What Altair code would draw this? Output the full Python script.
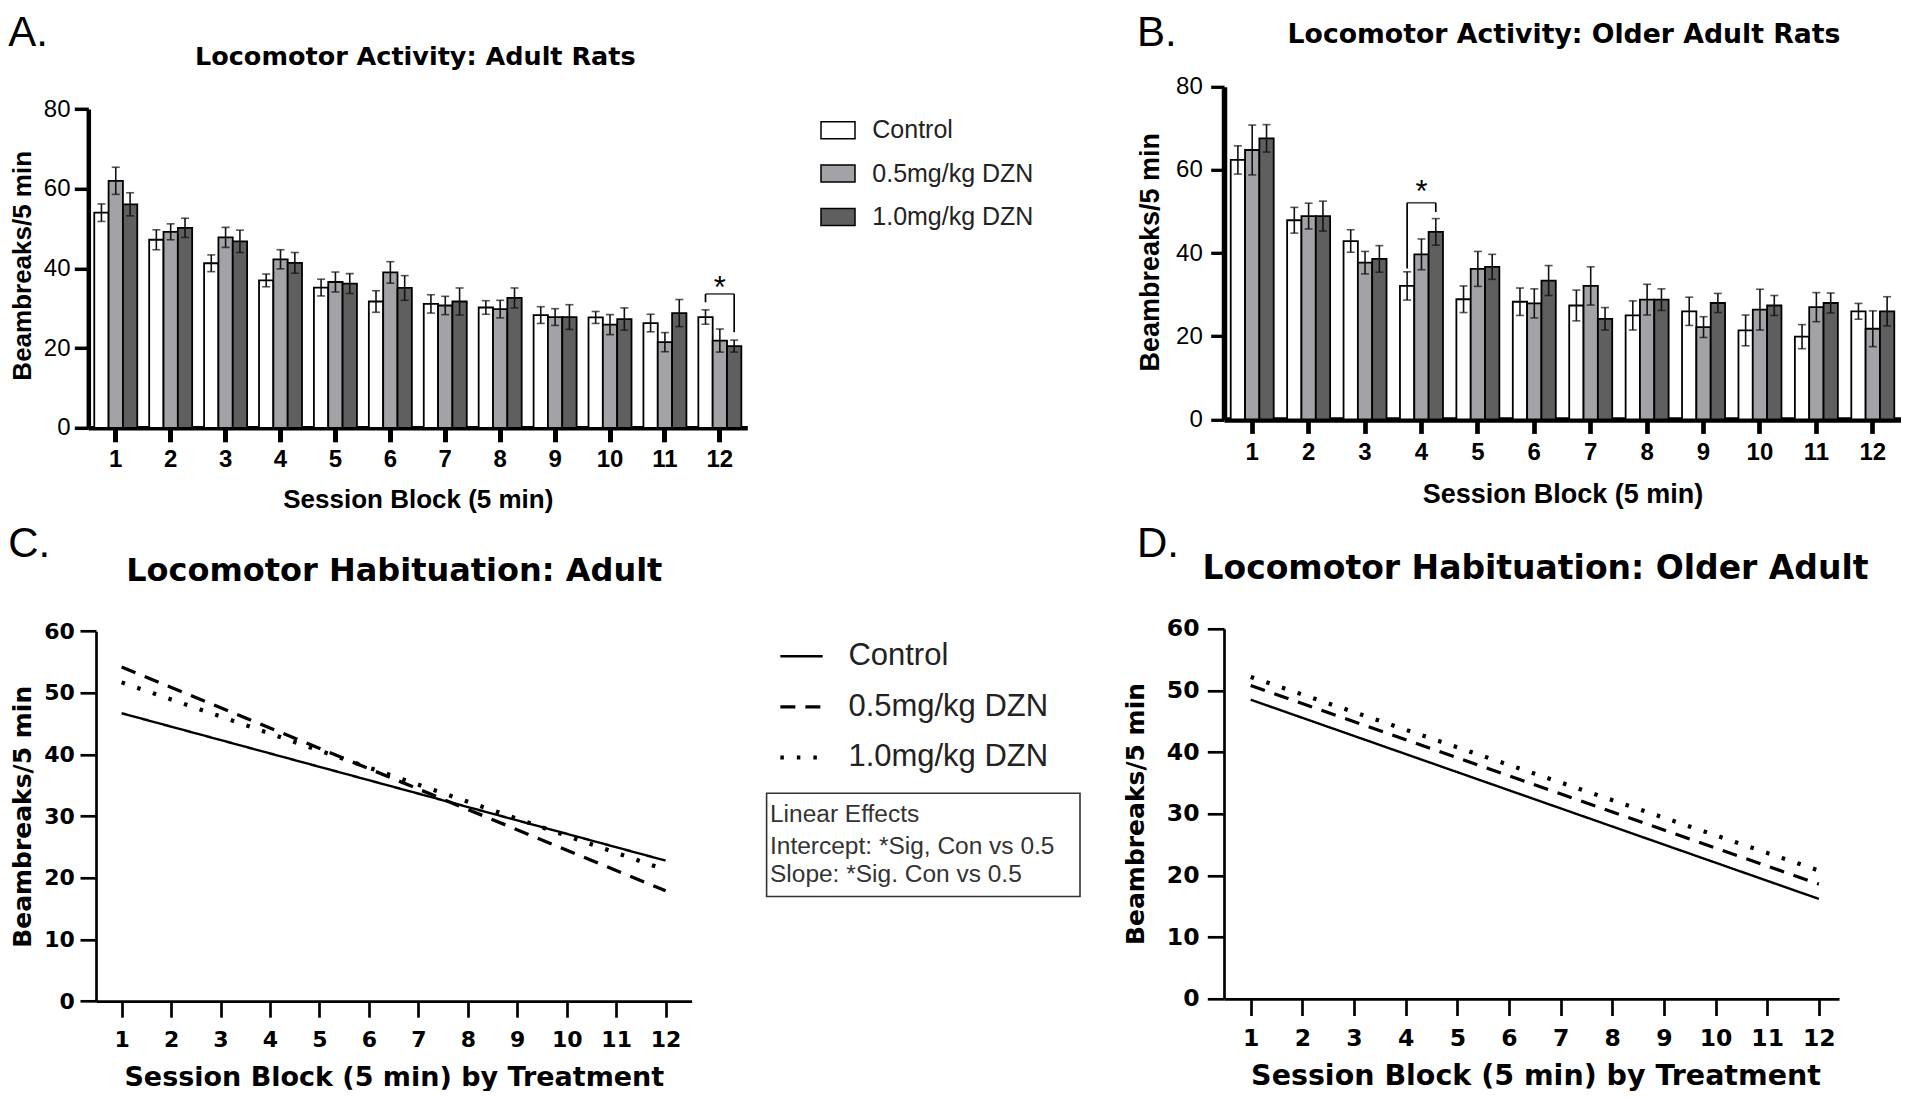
import altair as alt
import pandas as pd

# ---------------- data ----------------
blocks = [1, 2, 3, 4, 5, 6, 7, 8, 9, 10, 11, 12]
groups = ["Control", "0.5mg/kg DZN", "1.0mg/kg DZN"]
bar_colors = ["#ffffff", "#a2a2a7", "#5f5f5f"]

# Panel A: adult rats (mean, SEM)
ctrl_A = [54.0, 47.2, 41.3, 37.0, 35.2, 31.7, 31.1, 30.2, 28.3, 27.7, 26.3, 27.8]
ctrl_A_sem = [2.2, 2.5, 2.1, 1.6, 2.1, 2.7, 2.3, 1.7, 2.1, 1.5, 2.2, 1.8]
low_A = [62.0, 49.2, 47.8, 42.3, 36.6, 39.0, 30.7, 29.8, 27.8, 25.9, 21.5, 21.9]
low_A_sem = [3.4, 2.0, 2.5, 2.4, 2.5, 2.7, 2.3, 2.2, 2.1, 2.5, 2.4, 2.9]
high_A = [56.1, 50.2, 46.8, 41.4, 36.2, 35.1, 31.7, 32.6, 27.8, 27.3, 28.8, 20.5]
high_A_sem = [2.9, 2.4, 2.8, 2.6, 2.5, 3.1, 3.4, 2.5, 3.1, 2.8, 3.4, 1.5]

# Panel B: older adult rats (mean, SEM)
ctrl_B = [62.4, 47.9, 42.9, 32.1, 28.9, 28.3, 27.4, 25.0, 26.0, 21.4, 19.9, 26.0]
ctrl_B_sem = [3.4, 3.1, 2.7, 3.4, 3.2, 3.3, 3.7, 3.5, 3.4, 3.7, 2.9, 1.9]
low_B = [64.8, 48.9, 37.7, 39.7, 36.2, 27.9, 32.1, 28.8, 22.2, 26.4, 27.0, 21.8]
low_B_sem = [6.0, 3.1, 2.7, 3.7, 4.2, 3.5, 4.6, 3.7, 2.5, 4.9, 3.5, 4.3]
high_B = [67.6, 48.9, 38.6, 45.1, 36.7, 33.4, 24.2, 28.8, 28.0, 27.4, 28.0, 26.0]
high_B_sem = [3.3, 3.6, 3.2, 3.2, 3.0, 3.6, 2.7, 2.6, 2.3, 2.4, 2.4, 3.5]

# significance brackets: block, top level, drop ends for Control and 1.0mg/kg
sig_A_block, sig_A_top, sig_A_ends = 12, 33.6, [31.5, 24.0]
sig_B_block, sig_B_top, sig_B_ends = 4, 52.1, [36.3, 49.9]

# Panels C / D: fitted habituation lines (value at block 1 and block 12)
line_x = [1, 12]
C_ctrl = [46.7, 22.8]
C_low = [54.2, 17.9]
C_high = [51.7, 21.3]
D_ctrl = [48.5, 16.2]
D_low = [50.8, 18.6]
D_high = [52.2, 20.8]

box_lines = ["Linear Effects", "Intercept: *Sig, Con vs 0.5", "Slope: *Sig. Con vs 0.5"]

# ---------------- frames ----------------
def bar_frame(means, sems):
    rows = []
    for g, ms, ss in zip(groups, means, sems):
        for b, m, s in zip(blocks, ms, ss):
            rows.append({"block": b, "group": g, "mean": m, "lo": m - s, "hi": m + s})
    return pd.DataFrame(rows)

dfA = bar_frame([ctrl_A, low_A, high_A], [ctrl_A_sem, low_A_sem, high_A_sem])
dfB = bar_frame([ctrl_B, low_B, high_B], [ctrl_B_sem, low_B_sem, high_B_sem])

def line_frame(series):
    rows = []
    for g, ys in zip(groups, series):
        for x, y in zip(line_x, ys):
            rows.append({"x": x, "y": y, "group": g})
    return pd.DataFrame(rows)

dfC = line_frame([C_ctrl, C_low, C_high])
dfD = line_frame([D_ctrl, D_low, D_high])

ARIAL = "Liberation Sans"
DEJA = "DejaVu Sans"
YT = "Beambreaks/5 min"
LET_Y_TOP = -73.4
LET_Y_BOT = -104.4


def note(text, x, y, size, font, weight="normal", align="center",
         baseline="alphabetic", color="black"):
    return alt.Chart(pd.DataFrame({"t": [text]})).mark_text(
        font=font, fontSize=size, fontWeight=weight, align=align,
        baseline=baseline, color=color
    ).encode(text="t:N", x=alt.value(x), y=alt.value(y))


def bar_panel(df, xscale, yscale, xaxis, yaxis, legend, sig_block, sig_top,
              sig_ends, star_dy, width, height, letter, letter_x, title, title_x,
              title_y, title_size):
    off = alt.XOffset("group:N", scale=alt.Scale(domain=groups, paddingInner=0,
                                                  paddingOuter=0))
    xenc = alt.X("block:O", scale=xscale, axis=xaxis, title="Session Block (5 min)")
    base = alt.Chart(df).encode(x=xenc, xOffset=off)
    fill = alt.Fill("group:N", scale=alt.Scale(domain=groups, range=bar_colors),
                    legend=legend)
    bars = base.mark_bar(stroke="black", strokeWidth=1.8).encode(
        y=alt.Y("mean:Q", scale=yscale, axis=yaxis, title=YT), fill=fill)
    err = base.mark_rule(color="#111", strokeWidth=1.6).encode(
        y=alt.Y("lo:Q", scale=yscale, axis=yaxis, title=YT), y2="hi:Q")
    cap_lo = base.mark_tick(color="#111", thickness=1.6, size=8,
                            orient="horizontal").encode(
        y=alt.Y("lo:Q", scale=yscale, axis=yaxis, title=YT))
    cap_hi = base.mark_tick(color="#111", thickness=1.6, size=8,
                            orient="horizontal").encode(
        y=alt.Y("hi:Q", scale=yscale, axis=yaxis, title=YT))

    sig_df = pd.DataFrame({"block": [sig_block, sig_block],
                           "group": [groups[0], groups[2]],
                           "top": [sig_top, sig_top], "end": sig_ends})
    drops = alt.Chart(sig_df).mark_rule(color="black", strokeWidth=1.7).encode(
        x=xenc, xOffset=off,
        y=alt.Y("top:Q", scale=yscale, axis=yaxis, title=YT), y2="end:Q")
    top_df = pd.DataFrame({"block": [sig_block], "top": [sig_top], "t": ["*"]})
    across = alt.Chart(top_df).mark_tick(color="black", thickness=1.7,
                                         size=2 * 43 / 3,
                                         orient="horizontal").encode(
        x=xenc, y=alt.Y("top:Q", scale=yscale, axis=yaxis, title=YT))
    star = alt.Chart(top_df).mark_text(font=ARIAL, fontSize=31, dy=star_dy,
                                       baseline="alphabetic", color="black").encode(
        x=xenc, y=alt.Y("top:Q", scale=yscale, axis=yaxis, title=YT), text="t:N")

    let = note(letter, letter_x, LET_Y_TOP, 42, ARIAL, baseline="top", align="left")
    ttl = note(title, title_x, title_y, title_size, DEJA, weight="bold")
    return alt.layer(bars, err, cap_lo, cap_hi, drops, across, star, let, ttl
                     ).properties(width=width, height=height)


def axis_common(font, weight_labels, lsize, tsize, **kw):
    return alt.Axis(grid=False, domainColor="black", tickColor="black",
                    labelColor="black", titleColor="black", labelFont=font,
                    labelFontSize=lsize, labelFontWeight=weight_labels,
                    titleFont=font, titleFontSize=tsize, titleFontWeight="bold",
                    labelOverlap=False, labelFlush=False, titleAlign="center",
                    titleBaseline="middle", titleLimit=1000, **kw)

# ---------------- Panel A ----------------
xA = alt.Scale(domain=blocks, range=[-7.7, 651.3], paddingInner=0.217,
               paddingOuter=0.1085)
yA = alt.Scale(domain=[0, 80], range=[341, 22.3], nice=False)
axA_x = axis_common(ARIAL, "bold", 24, 26, labelAngle=0, domainWidth=4.5,
                    tickWidth=5, tickSize=14, labelPadding=17.8,
                    labelBaseline="middle", titleX=321.8, titleY=71.3, offset=8.4)
axA_y = axis_common(ARIAL, "normal", 24, 26, values=[0, 20, 40, 60, 80],
                    domainWidth=4.5, tickWidth=3.5, tickSize=14, labelPadding=4.3,
                    titleAngle=270, titleX=-65.5, titleY=178.5, offset=7.7)
legA = alt.Legend(orient="none", legendX=724, legendY=25.4, title=None,
                  symbolType="M-1,-0.5H1V0.5H-1Z", symbolSize=1156,
                  symbolStrokeColor="black", symbolStrokeWidth=1.5,
                  symbolOpacity=1, labelFont=ARIAL, labelFontSize=25,
                  labelColor="#222", labelOffset=16.3, rowPadding=12.4, padding=0,
                  labelLimit=400)
panelA = bar_panel(dfA, xA, yA, axA_x, axA_y, legA, sig_A_block, sig_A_top,
                   sig_A_ends, 4.4, 651.3, 332.6, "A.", -87.7,
                   "Locomotor Activity: Adult Rats", 319.3, -21.7, 25.5)

# ---------------- Panel B ----------------
xB = alt.Scale(domain=blocks, paddingInner=0.238, paddingOuter=0.119)
yB = alt.Scale(domain=[0, 80], nice=False)
axB_x = axis_common(ARIAL, "bold", 24, 27, labelAngle=0, domainWidth=5.5,
                    tickWidth=4.7, tickSize=14, labelPadding=19.5,
                    labelBaseline="middle", titleY=74.7)
axB_y = axis_common(ARIAL, "normal", 24, 27, values=[0, 20, 40, 60, 80],
                    domainWidth=5.5, tickWidth=3.3, tickSize=13.3, labelPadding=8.4,
                    titleAngle=270, titleX=-73.3, titleY=165)
panelB = bar_panel(dfB, xB, yB, axB_x, axB_y, None, sig_B_block, sig_B_top,
                   sig_B_ends, -0.9, 677, 332.6, "B.", -87,
                   "Locomotor Activity: Older Adult Rats", 340, -43.7, 26.7)

# ---------------- line panels ----------------
dash_scale = alt.Scale(domain=groups, range=[[1, 0], [15, 10], [3.5, 13]])
width_scale = alt.Scale(domain=groups, range=[2.4, 4.2, 4.2])


def line_panel(df, xdom, yrange, xaxis, yaxis, legend, width, height, letter,
               letter_x, title, title_x, title_y, title_size, extras):
    if yrange:
        yscale = alt.Scale(domain=[0, 60], nice=False, range=yrange)
    else:
        yscale = alt.Scale(domain=[0, 60], nice=False)
    lines = alt.Chart(df).mark_line(color="black", strokeCap="butt").encode(
        x=alt.X("x:Q", scale=alt.Scale(domain=xdom, nice=False, zero=False),
                axis=xaxis, title="Session Block (5 min) by Treatment"),
        y=alt.Y("y:Q", scale=yscale, axis=yaxis, title=YT),
        strokeDash=alt.StrokeDash("group:N", scale=dash_scale, legend=legend),
        strokeWidth=alt.StrokeWidth("group:N", scale=width_scale, legend=None),
    )
    let = note(letter, letter_x, LET_Y_BOT, 42, ARIAL, baseline="top", align="left")
    ttl = note(title, title_x, title_y, title_size, DEJA, weight="bold")
    return alt.layer(lines, let, ttl, *extras).properties(width=width, height=height)


axC_x = axis_common(DEJA, "bold", 22, 27, values=blocks, format="d", domainWidth=2.7,
                    tickWidth=2.7, tickSize=16, labelPadding=22.7,
                    labelBaseline="middle", titleY=76.5, offset=2.4)
axC_y = axis_common(DEJA, "bold", 22, 25, values=[0, 10, 20, 30, 40, 50, 60],
                    domainWidth=2.7, tickWidth=2.7, tickSize=16, labelPadding=5.7,
                    titleAngle=270, titleX=-73.2, titleY=187.5)
legC = alt.Legend(orient="none", legendX=682, legendY=5, title=None,
                  symbolType="stroke", symbolSize=1789, symbolStrokeWidth=3,
                  symbolStrokeColor="black", labelFont=ARIAL, labelFontSize=31,
                  labelColor="#222", labelOffset=23.4, rowPadding=12.1, padding=0,
                  labelLimit=400)

box = alt.Chart(pd.DataFrame({"k": [0]})).mark_rect(
    fill="white", stroke="#333", strokeWidth=1.6).encode(
    x=alt.value(670.6), x2=alt.value(984), y=alt.value(164.4), y2=alt.value(267.7))
box_text = [note(t, 674, yy, 24.5, ARIAL, align="left", baseline="middle",
                 color="#333") for t, yy in zip(box_lines, [186.7, 218.4, 246.7])]

panelC = line_panel(dfC, [0.4823, 12.526], [372.4, 2.4], axC_x, axC_y, legC,
                    595.6, 370, "C.", -87.7, "Locomotor Habituation: Adult", 298.3,
                    -47.3, 32, [box] + box_text)

axD_x = axis_common(DEJA, "bold", 23.5, 28.5, values=blocks, format="d",
                    domainWidth=2.7, tickWidth=2.7, tickSize=16.7, labelPadding=23.1,
                    labelBaseline="middle", titleY=77, titleX=311.5)
axD_y = axis_common(DEJA, "bold", 23.5, 25, values=[0, 10, 20, 30, 40, 50, 60],
                    domainWidth=2.7, tickWidth=2.7, tickSize=16.7, labelPadding=8.3,
                    titleAngle=270, titleX=-88, titleY=184.7)
panelD = line_panel(dfD, [0.483, 12.39], None, axD_x, axD_y, None, 615, 370, "D.",
                    -87, "Locomotor Habituation: Older Adult", 311.5, -49.3, 33, [])

ind = dict(x="independent", y="independent", xOffset="independent",
           fill="independent", strokeDash="independent", strokeWidth="independent")

chart = alt.concat(
    panelA, panelB, panelC, panelD, columns=2, bounds="flush", align="each",
    spacing=alt.RowColnumber(row=209, column=476)
).resolve_scale(**ind).properties(
    padding={"left": 0, "top": 3.8, "right": 0, "bottom": 0},
    background="white",
).configure_view(stroke="transparent", strokeWidth=0)

chart.save("out.html", embed_options={"renderer": "svg", "actions": False})
